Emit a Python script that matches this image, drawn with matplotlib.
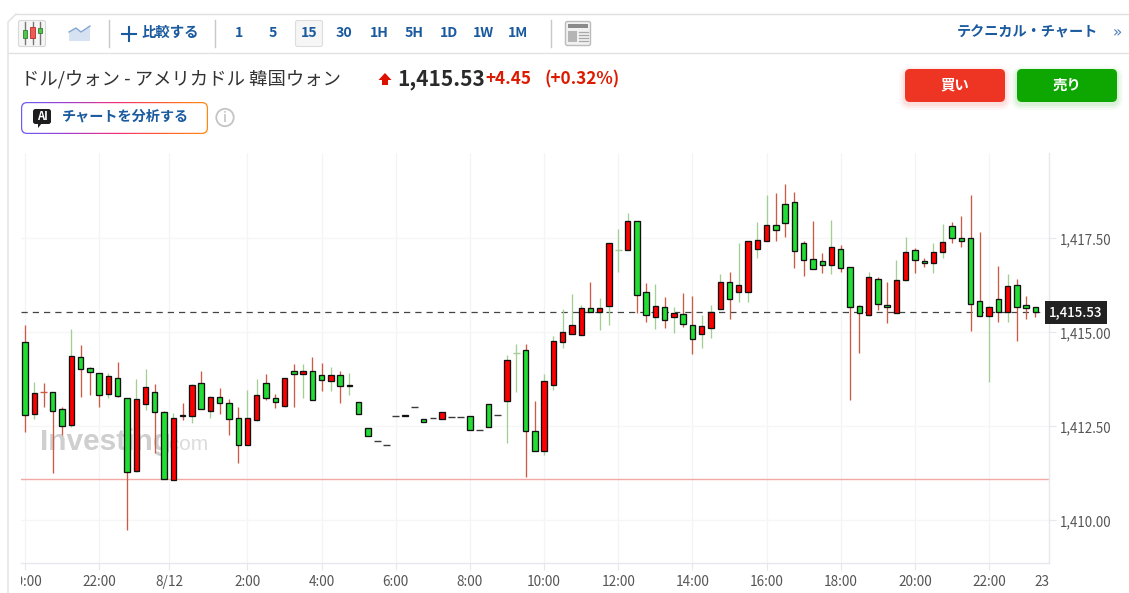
# -*- coding: utf-8 -*-
"""USD/KRW 15 minute candles with the site toolbar round them."""

import numpy as np
import matplotlib
matplotlib.use('Agg')
import matplotlib.pyplot as plt
from matplotlib.patches import FancyBboxPatch, Rectangle, Polygon, Circle
from matplotlib.transforms import Bbox, blended_transform_factory

plt.rcParams['font.family'] = ['Noto Sans CJK JP', 'DejaVu Sans']

W, H = 1129, 593

opens = [1414.74, 1412.84, 1413.42, 1413.41, 1412.95, 1412.53, 1414.34, 1414.04, 1413.91, 1413.37,
         1413.78, 1413.24, 1411.30, 1413.10, 1413.41, 1412.88, 1411.06, 1412.81, 1412.77, 1413.64,
         1412.90, 1413.28, 1413.11, 1412.71, 1412.00, 1412.67, 1413.64, 1413.24, 1413.03, 1413.98,
         1413.90, 1413.98, 1413.87, 1413.70, 1413.87, 1413.58, 1413.15, 1412.45, 1412.12, 1412.01,
         1412.77, 1412.80, 1413.01, 1412.69, 1412.71, 1412.70, 1412.74, 1412.74, 1412.77, 1412.41,
         1413.10, 1412.81, 1413.16, 1414.44, 1414.54, 1412.38, 1411.84, 1413.60, 1414.73, 1414.95,
         1414.93, 1415.64, 1415.53, 1415.69, 1417.20, 1417.19, 1417.96, 1416.06, 1415.42, 1415.66,
         1415.42, 1415.50, 1415.20, 1414.96, 1415.12, 1415.63, 1416.34, 1416.06, 1416.06, 1417.22,
         1417.42, 1417.86, 1418.40, 1418.46, 1417.37, 1416.96, 1416.90, 1416.79, 1417.22, 1416.73,
         1415.70, 1415.46, 1416.43, 1415.73, 1415.52, 1416.39, 1417.19, 1416.90, 1416.85, 1417.13,
         1417.83, 1417.50, 1417.50, 1415.83, 1415.43, 1415.89, 1415.53, 1416.27, 1415.73, 1415.66]
highs = [1415.19, 1413.69, 1413.66, 1413.41, 1413.02, 1415.08, 1414.65, 1414.09, 1413.91, 1413.91,
         1414.22, 1413.24, 1413.75, 1414.02, 1413.63, 1412.92, 1412.85, 1413.11, 1413.63, 1413.98,
         1413.31, 1413.51, 1413.22, 1413.02, 1413.46, 1413.75, 1413.89, 1413.36, 1413.78, 1414.16,
         1414.16, 1414.35, 1414.19, 1414.09, 1413.98, 1413.93, 1413.15, 1412.45, 1412.12, 1412.01,
         1412.77, 1412.80, 1413.01, 1412.69, 1412.71, 1412.87, 1412.74, 1412.74, 1412.77, 1412.41,
         1413.10, 1412.81, 1414.39, 1414.68, 1414.68, 1413.16, 1413.89, 1414.91, 1415.61, 1416.01,
         1415.72, 1416.35, 1415.90, 1417.37, 1417.76, 1418.16, 1417.96, 1416.30, 1416.28, 1415.95,
         1415.68, 1416.04, 1415.97, 1415.46, 1415.73, 1416.55, 1416.61, 1417.37, 1417.44, 1417.94,
         1418.64, 1418.70, 1418.94, 1418.74, 1417.44, 1417.97, 1417.10, 1418.00, 1417.31, 1416.73,
         1415.73, 1416.60, 1416.46, 1416.35, 1416.91, 1417.54, 1417.23, 1416.98, 1417.37, 1417.88,
         1417.94, 1418.08, 1418.64, 1417.68, 1415.70, 1416.77, 1416.54, 1416.42, 1415.97, 1415.68]
lows = [1412.36, 1412.69, 1413.02, 1411.27, 1412.26, 1412.47, 1413.29, 1413.32, 1413.02, 1413.25,
        1413.27, 1409.74, 1411.29, 1412.93, 1411.80, 1411.11, 1411.06, 1412.67, 1412.60, 1412.96,
        1412.72, 1412.83, 1412.26, 1411.53, 1412.00, 1412.63, 1413.20, 1412.99, 1413.02, 1413.02,
        1413.25, 1413.20, 1413.45, 1413.45, 1413.13, 1413.32, 1412.84, 1412.23, 1412.12, 1412.01,
        1412.77, 1412.78, 1413.01, 1412.61, 1412.71, 1412.70, 1412.74, 1412.74, 1412.40, 1412.41,
        1412.47, 1412.81, 1412.06, 1413.42, 1411.16, 1411.84, 1411.73, 1413.46, 1414.59, 1414.95,
        1414.93, 1415.54, 1415.06, 1415.19, 1416.61, 1417.19, 1415.52, 1415.28, 1415.09, 1415.11,
        1414.99, 1415.15, 1414.42, 1414.59, 1414.86, 1415.63, 1415.35, 1415.81, 1415.81, 1416.98,
        1417.42, 1417.44, 1417.54, 1416.71, 1416.51, 1416.68, 1416.59, 1416.55, 1416.61, 1413.20,
        1414.46, 1415.44, 1415.58, 1415.26, 1415.52, 1416.36, 1416.59, 1416.75, 1416.59, 1416.98,
        1417.38, 1417.28, 1415.04, 1415.43, 1413.69, 1415.28, 1415.28, 1414.78, 1415.35, 1415.42]
closes = [1412.80, 1413.38, 1413.41, 1412.90, 1412.50, 1414.38, 1414.03, 1413.94, 1413.34, 1413.84,
          1413.30, 1411.28, 1413.22, 1413.55, 1412.87, 1411.11, 1412.71, 1412.78, 1413.61, 1412.97,
          1413.27, 1413.11, 1412.70, 1412.00, 1412.71, 1413.34, 1413.24, 1413.14, 1413.78, 1413.90,
          1413.98, 1413.20, 1413.73, 1413.87, 1413.56, 1413.60, 1412.84, 1412.23, 1412.12, 1412.01,
          1412.77, 1412.78, 1413.01, 1412.61, 1412.71, 1412.87, 1412.74, 1412.74, 1412.40, 1412.41,
          1412.47, 1412.81, 1414.27, 1414.44, 1412.38, 1411.84, 1413.70, 1414.77, 1415.00, 1415.20,
          1415.64, 1415.55, 1415.64, 1417.37, 1417.20, 1417.96, 1415.99, 1415.46, 1415.70, 1415.33,
          1415.52, 1415.23, 1414.83, 1415.17, 1415.53, 1416.34, 1415.89, 1416.27, 1417.44, 1417.46,
          1417.86, 1417.72, 1417.92, 1417.16, 1416.92, 1416.68, 1416.78, 1417.26, 1416.72, 1415.66,
          1415.52, 1416.46, 1415.76, 1415.66, 1416.40, 1417.13, 1416.93, 1416.83, 1417.13, 1417.39,
          1417.50, 1417.43, 1415.76, 1415.43, 1415.66, 1415.54, 1416.23, 1415.66, 1415.64, 1415.53]

time_ticks = [0, 8, 15.55, 24, 32, 40, 48, 56, 64, 72, 80, 88, 96, 104, 110.75]
time_labels = ['20:00', '22:00', '8/12', '2:00', '4:00', '6:00', '8:00', '10:00', '12:00',
               '14:00', '16:00', '18:00', '20:00', '22:00', '23:00']
price_ticks = [1410.0, 1412.5, 1415.0, 1417.5]
prev_close = 1411.10
last_price = 1415.53

intervals = ['1', '5', '15', '30', '1H', '5H', '1D', '1W', '1M']
interval_x = [239, 273, 309, 344, 379, 414, 449, 484, 518]

BLUE = '#1a5a9e'
RED_TXT = '#dd1a00'
UP = '#ff0000'
DOWN = '#22dd33'
WICK_UP = '#a3cf95'     # wick of a red candle is green here, and the other way round
WICK_DOWN = '#cc5a45'


def rbox(ax, x0, y0, x1, y1, r, **kw):
    p = FancyBboxPatch((x0 + r, y0 + r), x1 - x0 - 2 * r, y1 - y0 - 2 * r,
                       boxstyle='round,pad=%g,rounding_size=%g' % (r, r), **kw)
    ax.add_patch(p)
    return p


fig = plt.figure(figsize=(W / 100, H / 100), dpi=100, facecolor='white')

# page furniture, in pixels
ui = fig.add_axes([0, 0, 1, 1], zorder=0)
ui.set_xlim(0, W)
ui.set_ylim(H, 0)
ui.axis('off')

#----------------------------------------------------------------------
#   card border and toolbar
ui.plot([8, 8, 16], [H, 22, 14], color='#e0e0e0', lw=1)
ui.plot([16, W], [14, 14], color='#e0e0e0', lw=1)
ui.plot([8, W], [52.5, 52.5], color='#e2e2e2', lw=1)
for x in [108.5, 214.5, 550.5]:
    ui.plot([x, x], [20, 47], color='#c8c8c8', lw=1)

# candle icon
rbox(ui, 18.5, 20.5, 45.5, 46.5, 2, fc='#f6f6f6', ec='#d8d8d8', lw=0.8)
for x, t, b, c, e in [(25, 30, 38, '#55c24a', '#2f7d2a'), (32.5, 27, 38, '#ee5a55', '#b52b28'),
                      (40, 28, 33, '#55c24a', '#2f7d2a')]:
    ui.plot([x, x], [22, 44], color='#777777', lw=1)
    ui.add_patch(Rectangle((x - 2.2, t), 4.4, b - t, fc=c, ec=e, lw=0.6, zorder=3))

# area icon
ui.add_patch(Polygon([(69, 32), (76, 28), (81, 32), (90, 26), (90, 41), (69, 41)],
                     fc='#d6e1f1', ec='none'))
ui.plot([69, 76, 81, 90], [32, 28, 32, 26], color='#84a8d6', lw=1)

ui.plot([129, 129], [26.5, 40.5], color=BLUE, lw=1.5)
ui.plot([122, 136], [33.5, 33.5], color=BLUE, lw=1.5)
ui.text(142, 33, '比較する', color=BLUE, fontsize=10.4, fontweight='bold', va='center')

rbox(ui, 295.5, 20.5, 322.5, 46.5, 2, fc='#f6f6f6', ec='#dddddd', lw=0.8)
for lab, x in zip(intervals, interval_x):
    ui.text(x, 33, lab, color=BLUE, fontsize=10.2, fontweight='bold', ha='center', va='center')

# newspaper icon
rbox(ui, 565.5, 21.5, 590.5, 45.5, 2, fc='#f1f1f1', ec='#bbbbbb', lw=1)
ui.add_patch(Rectangle((568, 24), 20, 4, fc='#8a8a8a', ec='none'))
ui.add_patch(Rectangle((568, 31), 9, 11, fc='#b5b5b5', ec='none'))
for y in [32, 35, 38, 41]:
    ui.plot([579, 588], [y, y], color='#a8a8a8', lw=0.9)

ui.text(957, 33, 'テクニカル・チャート', color=BLUE, fontsize=10.2, fontweight='bold', va='center')
ui.text(1117, 33, '»', color='#4a7cbd', fontsize=11, ha='center', va='center', family='DejaVu Sans')

#----------------------------------------------------------------------
#   instrument header
ui.text(21, 79, 'ドル/ウォン - アメリカドル 韓国ウォン', color='#333333', fontsize=13.2, va='center')
ui.add_patch(Polygon([(385, 73), (391.5, 80), (388, 80), (388, 85), (382, 85), (382, 80), (378.5, 80)],
                     fc='#dd1100', ec='none'))
ui.text(397, 79, '1,415.53', color='#2a2a2a', fontsize=15, fontweight='bold', va='center')
ui.text(485, 79, '+4.45', color=RED_TXT, fontsize=12.3, fontweight='bold', va='center')
ui.text(544, 79, '(+0.32%)', color=RED_TXT, fontsize=12.3, fontweight='bold', va='center')

# buy / sell buttons with their soft shadow
for x0, x1, col, lab in [(905, 1005, '#ee3524', '買い'), (1017, 1117, '#0ea600', '売り')]:
    for grow, al in [(6, 0.03), (4, 0.05), (2, 0.07)]:
        rbox(ui, x0 - grow, 72 - grow, x1 + grow, 104 + grow, 5 + grow, fc=col, ec='none', alpha=al)
    rbox(ui, x0, 69, x1, 102, 5, fc=col, ec='none')
    ui.text((x0 + x1) / 2, 85.5, lab, color='white', fontsize=10.4, fontweight='bold',
            ha='center', va='center')

# AI button: gradient clipped to a rounded box, white box on top leaves the border
grad = np.linspace(0, 1, 256).reshape(1, -1)
cmap = matplotlib.colors.LinearSegmentedColormap.from_list(
    'ai', ['#6a5cf5', '#a23fd0', '#ee2f7a', '#ff5a30', '#ff8a10'])
im = ui.imshow(grad, cmap=cmap, extent=(21, 208, 134, 102), aspect='auto', zorder=2)
im.set_clip_path(rbox(ui, 21, 102, 208, 134, 6, fc='none', ec='none'))
rbox(ui, 22.2, 103.2, 206.8, 132.8, 5, fc='white', ec='none', zorder=3)
ui.set_xlim(0, W)
ui.set_ylim(H, 0)
rbox(ui, 33, 109, 51, 124, 2.5, fc='#1d1d1d', ec='none', zorder=4)
ui.add_patch(Polygon([(38, 123), (42, 123), (38, 128)], fc='#1d1d1d', ec='none', zorder=4))
ui.text(42, 116.5, 'AI', color='white', fontsize=8, fontweight='bold', ha='center', va='center', zorder=5)
ui.text(62, 117, 'チャートを分析する', color=BLUE, fontsize=10.2, fontweight='bold', va='center', zorder=5)
ui.add_patch(Circle((225, 117.5), 8.7, fc='white', ec='#c4c4c4', lw=1.3))
ui.text(225, 117.5, 'i', color='#b5b5b5', fontsize=10, ha='center', va='center')

# watermark sits under the candles
ui.text(40, 442, 'Investing', color='#cfcfcf', fontsize=21.5, fontweight='bold', va='center',
        family='Liberation Sans')
ui.text(163, 444, '.com', color='#dcdcdc', fontsize=15, va='center', family='Liberation Sans')

#----------------------------------------------------------------------
#   the chart itself
x0_px, x1_px, y_top, y_bot = 21, 1049, 153, 563
px_per_bar = 9.27
px_per_unit = 37.6
ax = fig.add_axes([x0_px / W, 1 - y_bot / H, (x1_px - x0_px) / W, (y_bot - y_top) / H], zorder=1)
ax.patch.set_alpha(0)
ax.set_xlim((x0_px - 25) / px_per_bar, (x1_px - 25) / px_per_bar)
ax.set_ylim(1415 - (y_bot - 332.3) / px_per_unit, 1415 + (332.3 - y_top) / px_per_unit)

for s in ['left', 'top']:
    ax.spines[s].set_visible(False)
for s in ['right', 'bottom']:
    ax.spines[s].set_color('#e6e8ee')
    ax.spines[s].set_linewidth(1)
ax.yaxis.tick_right()
ax.set_yticks(price_ticks)
ax.set_yticklabels(['{:,.2f}'.format(p) for p in price_ticks])
ax.set_xticks(time_ticks[:-1])
ax.set_xticklabels([])
ax.tick_params(axis='y', length=5, width=0.8, color='#e6e8ee', labelcolor='#555555',
               labelsize=9.6, pad=3)
ax.tick_params(axis='x', length=5, width=0.8, color='#e6e8ee')
ax.grid(True, axis='x', color='#f3f4f7', lw=0.9)
ax.grid(True, axis='y', color='#f6f6f7', lw=0.9)
ax.set_axisbelow(True)

# time labels, cut off at the plot edges like the original
lab_trans = blended_transform_factory(ax.transData, ui.transData)
clip = Bbox.from_extents(x0_px, 0, x1_px, H)
for t, lab in zip(time_ticks, time_labels):
    txt = ax.text(t, 582, lab, transform=lab_trans, color='#555555', fontsize=9.8,
                  ha='center', va='center', clip_on=True)
    txt.set_clip_box(clip)

ax.axhline(prev_close, color='#f0a9a5', lw=1, zorder=1.5)
ax.axhline(last_price, color='#444444', lw=0.9, dashes=(5, 4), zorder=1.5)

bars = np.arange(len(opens))
o = np.array(opens)
h = np.array(highs)
l = np.array(lows)
c = np.array(closes)
rising = c >= o
flat = np.abs(c - o) < 0.015
has_wick = h > l

wick_cols = [WICK_UP if r else WICK_DOWN for r in rising]
ax.vlines(bars[has_wick], l[has_wick], h[has_wick], colors=np.array(wick_cols)[has_wick],
          lw=0.95, zorder=2)

# no-move bars are short dashes: coloured when they have a wick, dark otherwise
dash_half = 0.36
for i in bars[flat]:
    col = wick_cols[i] if has_wick[i] else '#3a3a3a'
    ax.hlines(o[i], i - dash_half, i + dash_half, colors=col, lw=1.0, zorder=2.5)

solid = ~flat
body_cols = [UP if r else DOWN for r in rising[solid]]
ax.bar(bars[solid], (c - o)[solid], bottom=o[solid], width=0.58, color=body_cols,
       edgecolor='#111111', linewidth=0.95, zorder=3)

# last price tag over the axis
ax.text(1, last_price, '{:,.2f}'.format(last_price), transform=ax.get_yaxis_transform(),
        color='white', fontsize=9.6, fontweight='medium', va='center', ha='left', zorder=6,
        clip_on=False, bbox=dict(boxstyle='square,pad=0.32', fc='#222222', ec='none'))

fig.savefig('out.png', dpi=100)
